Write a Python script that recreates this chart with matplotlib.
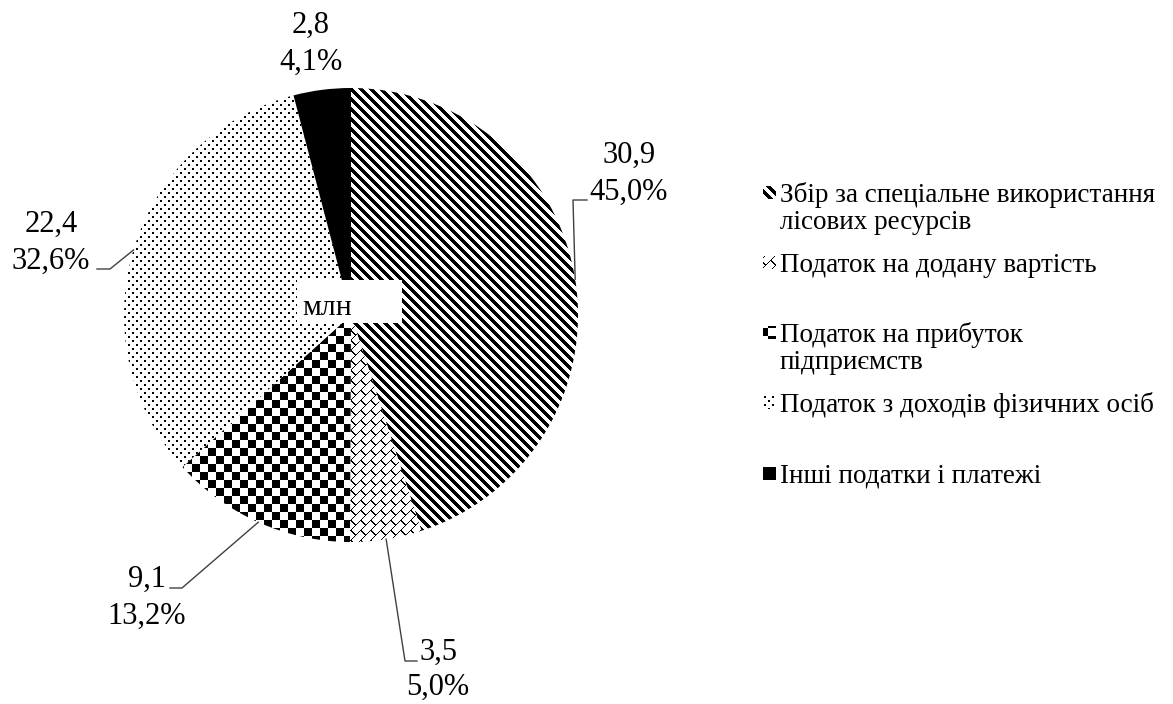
import numpy as np
import matplotlib
matplotlib.use("Agg")
import matplotlib.pyplot as plt
from matplotlib.patches import Rectangle

# Data
categories = [
    "Збір за спеціальне використання\nлісових ресурсів",
    "Податок на додану вартість",
    "Податок на прибуток\nпідприємств",
    "Податок з доходів фізичних осіб",
    "Інші податки і платежі",
]
values = [30.9, 3.5, 9.1, 22.4, 2.8]      # млн
shares = [45.0, 5.0, 13.2, 32.6, 4.1]     # %
fills = ["stripes", "brick", "checker", "dots", "solid"]

# Layout (pixels, origin top-left)
W, H = 1173, 704
CX, CY, R = 351, 315, 227
FONT = "Liberation Serif"

# label centre x, baseline of first line, line gap, leader (end, elbow) or None
label_layout = [
    (629, 163, 37, [(587, 200), (573, 200)]),
    (438, 660, 35, [(417, 661), (405, 661)]),
    (147, 587, 37, [(170, 588), (182, 588)]),
    (51, 232, 37, [(97, 269), (110, 269)]),
    (311, 33, 37, None),
]
legend_baselines = [202, 272, 342, 412, 483]


def dx(px):
    return (px - CX) / R


def dy(py):
    return (CY - py) / R


def pattern(kind, x0, y0, w, h):
    r, c = np.mgrid[y0:y0 + h, x0:x0 + w]
    if kind == "stripes":
        on = (c - r) % 10 < 5
    elif kind == "brick":
        u = r + c
        v = c - r
        k = u // 10
        on = (u % 10 == 0) | ((v + 10 * (k % 2)) % 20 < 2)
    elif kind == "checker":
        on = (r // 8 + c // 8) % 2 == 0
    elif kind == "dots":
        on = ((r % 8 < 2) & (c % 8 < 2)) | (((r + 4) % 8 < 2) & ((c + 4) % 8 < 2))
    else:
        on = np.ones(r.shape, dtype=bool)
    img = np.full((h, w, 3), 255, dtype=np.uint8)
    img[on] = 0
    return img


def fmt(x):
    return f"{x:.1f}".replace(".", ",")


fig = plt.figure(figsize=(W / 100, H / 100), dpi=100)
fig.patch.set_facecolor("white")
ax = fig.add_axes([0, 0, 1, 1])

wedges, _ = ax.pie(
    values,
    startangle=90,
    counterclock=False,
    radius=1,
    colors=["white"] * len(values),
    wedgeprops=dict(linewidth=0),
)

# pattern fills clipped to the wedges
for w, kind in zip(wedges, fills):
    im = ax.imshow(
        pattern(kind, 0, 0, W, H),
        extent=(dx(0), dx(W), dy(H), dy(0)),
        interpolation="nearest",
        zorder=2,
    )
    im.set_clip_path(w)

# data labels with leader lines
for w, v, s, (lx, ly, gap, lead) in zip(wedges, values, shares, label_layout):
    ax.text(dx(lx), dy(ly), fmt(v), ha="center", va="baseline",
            fontsize=22, family=FONT, color="black", zorder=5)
    ax.text(dx(lx), dy(ly + gap), fmt(s) + "%", ha="center", va="baseline",
            fontsize=22, family=FONT, color="black", zorder=5)
    if lead is not None:
        theta = np.deg2rad((w.theta1 + w.theta2) / 2)
        xs = [dx(lead[0][0]), dx(lead[1][0]), np.cos(theta)]
        ys = [dy(lead[0][1]), dy(lead[1][1]), np.sin(theta)]
        ax.plot(xs, ys, color="#404040", lw=1, zorder=4)

# "млн" box in the centre
ax.add_patch(Rectangle((dx(297), dy(323)), dx(402) - dx(297), dy(280) - dy(323),
                       facecolor="white", edgecolor="none", zorder=3))
ax.text(dx(302), dy(315), "млн", ha="left", va="baseline",
        fontsize=21.5, family=FONT, color="black", zorder=4)

# legend
for cat, kind, base in zip(categories, fills, legend_baselines):
    x0, y0 = 763, base - 16
    ax.imshow(pattern(kind, x0, y0, 13, 13),
              extent=(dx(x0), dx(x0 + 13), dy(y0 + 13), dy(y0)),
              interpolation="nearest", zorder=2)
    for i, line in enumerate(cat.split("\n")):
        ax.text(dx(780), dy(base + 27 * i), line, ha="left", va="baseline",
                fontsize=19.5, family=FONT, color="black")

ax.set_xlim(dx(0), dx(W))
ax.set_ylim(dy(H), dy(0))
ax.set_aspect("auto")
ax.axis("off")

fig.savefig("out.png", dpi=100, facecolor="white")
